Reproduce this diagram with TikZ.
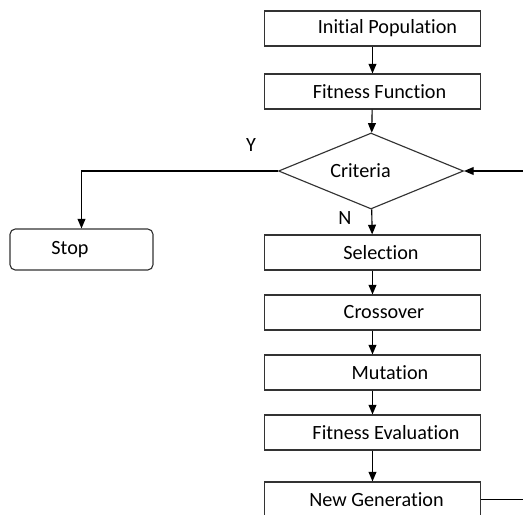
\documentclass[tikz,border=0pt]{standalone}
\usepackage{fontspec}
\setmainfont[RawFeature={-liga}]{Carlito}
\usetikzlibrary{arrows.meta,shapes.geometric}
\tikzset{
  box/.style={draw=black!80,line width=0.65pt,minimum width=4.32cm,minimum height=0.7cm,inner sep=0pt},
  stopbox/.style={draw=black!80,line width=0.65pt,rounded corners=3pt,minimum width=2.86cm,minimum height=0.82cm,inner sep=0pt},
  crit/.style={draw=black!80,line width=0.65pt,diamond,aspect=2.4,minimum width=3.7cm,minimum height=1.52cm,inner sep=0pt},
  arr/.style={-{Triangle[length=5.5pt,width=4.5pt]},line width=0.65pt},
  tshift/.style={execute at begin node={\hspace*{#1}}}
}
\begin{document}
\begin{tikzpicture}[x=0.02cm,y=-0.02cm,font=\fontsize{11.5}{13}\selectfont]
\useasboundingbox (0,0) rectangle (523,514);
\clip (0,0) rectangle (523,514);
\node[box,tshift=0.6cm] (init) at (372.5,28.5) {Initial Population};
\node[box,tshift=0.28cm] (fit) at (372.5,91.5) {Fitness Function};
\node[crit,tshift=-0.42cm] (criteria) at (371,171) {Criteria};
\node[box,tshift=0.34cm] (sel) at (372.5,252.5) {Selection};
\node[box,tshift=0.46cm] (cross) at (372.5,312.5) {Crossover};
\node[box,tshift=0.7cm] (mut) at (372.5,372.5) {Mutation};
\node[box,tshift=0.54cm] (feval) at (372.5,432.5) {Fitness Evaluation};
\node[box,tshift=0.16cm] (newgen) at (372.5,499.5) {New Generation};
\node[stopbox,tshift=-0.46cm] (stop) at (81.5,249.5) {Stop};
\node (yes) at (251,145) {Y};
\node (no) at (345,218) {N};
% main flow
\draw[arr] (init) -- (fit);
\draw[arr] (fit) -- (criteria);
\draw[arr] (criteria) -- (sel);
\draw[arr] (sel) -- (cross);
\draw[arr] (cross) -- (mut);
\draw[arr] (mut) -- (feval);
\draw[arr] (feval) -- (newgen);
% exit and loop back
\draw[arr] (criteria.west) -| (stop);
\draw[arr] (newgen.east) -- ++(60,0) |- (criteria.east);
\end{tikzpicture}
\end{document}
